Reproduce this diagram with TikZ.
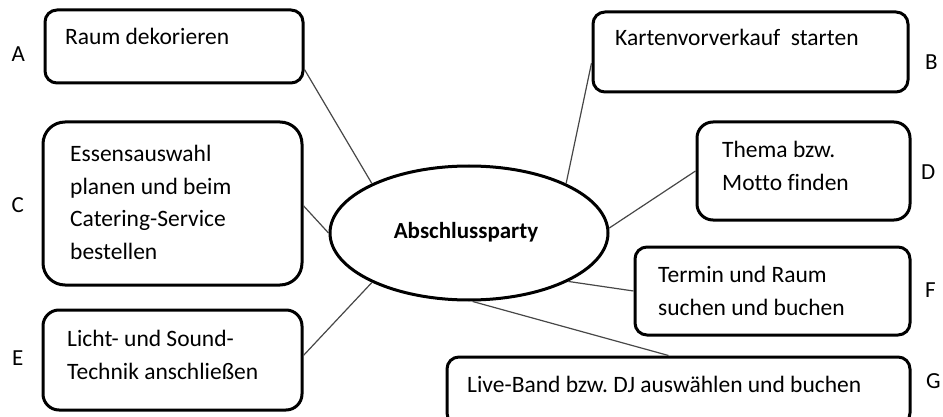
\documentclass[tikz,border=0pt]{standalone}
\usepackage{fontspec}
\setmainfont{Carlito}[Ligatures=CommonOff]
\frenchspacing
\usetikzlibrary{calc,shapes.geometric}
\begin{document}
\begin{tikzpicture}[x=1pt,y=-1pt,
  taskbox/.style={draw=black, line width=3pt, rounded corners=#1, inner sep=0pt},
  % multi-line texts are placed by the baseline of their last line
  tasktext/.style={font=\fontsize{23.5}{32.5}\selectfont, align=left, inner sep=0pt, anchor=base west},
  letter/.style={font=\fontsize{23}{26}\selectfont, inner sep=0pt, anchor=base west},
  hubshape/.style={draw=black, ellipse, line width=3pt, inner sep=0pt},
  hubtext/.style={font=\fontsize{23}{26}\selectfont\bfseries, inner sep=0pt, anchor=base},
  link/.style={draw=black!72, line width=1.2pt}
]
\clip (0,0) rectangle (943,417);

% central topic
\node[hubshape, minimum width=278pt, minimum height=134pt] (hub) at (469,233) {};
\node[hubtext] (hubT) at (466,238) {Abschlussparty};

% task boxes
\node[taskbox=12pt, minimum width=258pt, minimum height=73pt]  (boxA) at (174,46.5) {};
\node[taskbox=12pt, minimum width=315pt, minimum height=80pt]  (boxB) at (750.5,52) {};
\node[taskbox=22pt, minimum width=259pt, minimum height=163pt] (boxC) at (172.5,203.5) {};
\node[taskbox=16pt, minimum width=213pt, minimum height=98pt]  (boxD) at (803.5,171) {};
\node[taskbox=16pt, minimum width=259pt, minimum height=100pt] (boxE) at (172.5,360) {};
\node[taskbox=12pt, minimum width=275pt, minimum height=88pt]  (boxF) at (772.5,291) {};
\node[taskbox=12pt, minimum width=463pt, minimum height=68pt]  (boxG) at (678.5,391) {};

% box texts
\node[tasktext] (tA) at (65,45) {Raum dekorieren};
\node[tasktext] (tB) at (615,45.7) {Kartenvorverkauf\ \ starten};
\node[tasktext] (tC) at (70,259.2) {Essensauswahl\\planen und beim\\Catering-Service\\bestellen};
\node[tasktext] (tD) at (722,190) {Thema bzw.\\Motto finden};
\node[tasktext] (tE) at (67,379) {Licht- und Sound-\\Technik anschließen};
\node[tasktext] (tF) at (658,315) {Termin und Raum\\suchen und buchen};
\node[tasktext] (tG) at (467,392) {Live-Band bzw. DJ auswählen und buchen};

% letters
\node[letter] (lA) at (11.5,62) {A};
\node[letter] (lB) at (925,70) {B};
\node[letter] (lC) at (11.5,212) {C};
\node[letter] (lD) at (921,180) {D};
\node[letter] (lE) at (12,365) {E};
\node[letter] (lF) at (925,297) {F};
\node[letter] (lG) at (926,388) {G};

% connectors
\draw[link] (boxA.-10) -- (hub.153);
\draw[link] (boxB.184) -- (hub.27);
\draw[link] (boxC.-1) -- (hub.180);
\draw[link] (boxD.west) -- (hub.2);
\draw[link] (boxE.2) -- (hub.207);
\draw[link] (hub.334) -- (boxF.west);
\draw[link] (hub.273) -- ($(boxG.north)+(-10,0)$);
\end{tikzpicture}
\end{document}
